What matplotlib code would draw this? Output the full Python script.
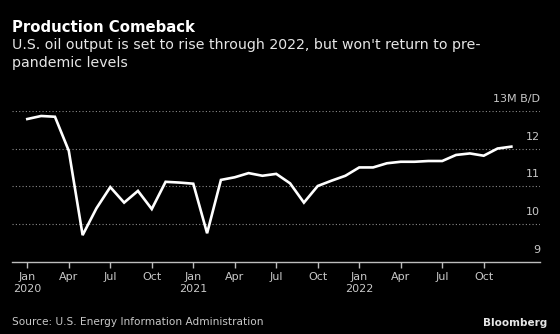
import numpy as np
import matplotlib
matplotlib.use("Agg")
import matplotlib.pyplot as plt

# monthly US crude output, million barrels/day, Jan 2020 - Dec 2022
output = [12.78, 12.86, 12.84, 11.94, 9.71, 10.42, 10.98, 10.57, 10.88, 10.40,
          11.12, 11.10, 11.07, 9.76, 11.17, 11.24, 11.35, 11.28, 11.33, 11.08,
          10.57, 11.01, 11.15, 11.28, 11.50, 11.50, 11.61, 11.65, 11.65, 11.67,
          11.67, 11.83, 11.87, 11.81, 12.00, 12.05]
tick_months = [0, 3, 6, 9, 12, 15, 18, 21, 24, 27, 30, 33]
tick_labels = ['Jan\n2020', 'Apr', 'Jul', 'Oct', 'Jan\n2021', 'Apr', 'Jul', 'Oct',
               'Jan\n2022', 'Apr', 'Jul', 'Oct']
y_ticks = [9, 10, 11, 12, 13]
y_labels = ['9', '10', '11', '12', '13M B/D']

W, H = 560, 334
fig = plt.figure(figsize=(W / 100, H / 100), dpi=100, facecolor='black')
ax = fig.add_axes([12 / W, (H - 262) / H, (540 - 12) / W, (262 - 110.7) / H])
ax.set_facecolor('black')

months = np.arange(len(output))
ax.plot(months, output, color='white', lw=1.9, solid_joinstyle='miter', zorder=3)

ax.set_xlim(-1.106, 37.07)
ax.set_ylim(9, 13)

for v in y_ticks[1:]:
    ax.axhline(v, color='#8a8a8a', lw=0.8, ls=(0, (1, 2)), zorder=1)

for s in ['top', 'right', 'left']:
    ax.spines[s].set_visible(False)
ax.spines['bottom'].set_color('#bdbdbd')
ax.spines['bottom'].set_linewidth(1.0)

ax.set_xticks(tick_months)
ax.set_xticklabels(tick_labels, color='#c8c8c8', fontsize=8, linespacing=1.25)
ax.tick_params(axis='x', length=4, width=1, color='#bdbdbd', pad=3)
ax.set_yticks([])

for v, lab in zip(y_ticks, y_labels):
    ax.annotate(lab, xy=(1, v), xycoords=('axes fraction', 'data'),
                xytext=(0, 5), textcoords='offset points',
                ha='right', va='bottom', color='#c8c8c8', fontsize=8)

fig.text(12 / W, 1 - 27 / H, 'Production Comeback', color='white',
         fontsize=10.7, fontweight='bold', va='center', ha='left')
fig.text(12 / W, 1 - 45.5 / H,
         "U.S. oil output is set to rise through 2022, but won't return to pre-",
         color='#e6e6e6', fontsize=10.2, va='center', ha='left')
fig.text(12 / W, 1 - 63.5 / H, 'pandemic levels',
         color='#e6e6e6', fontsize=10.2, va='center', ha='left')
fig.text(12 / W, 1 - 322 / H, 'Source: U.S. Energy Information Administration',
         color='#c8c8c8', fontsize=7.6, va='center', ha='left')
fig.text(547 / W, 1 - 323 / H, 'Bloomberg', color='#e6e6e6', fontsize=7.5,
         fontweight='bold', va='center', ha='right')

fig.savefig('out.png', dpi=100, facecolor='black')
